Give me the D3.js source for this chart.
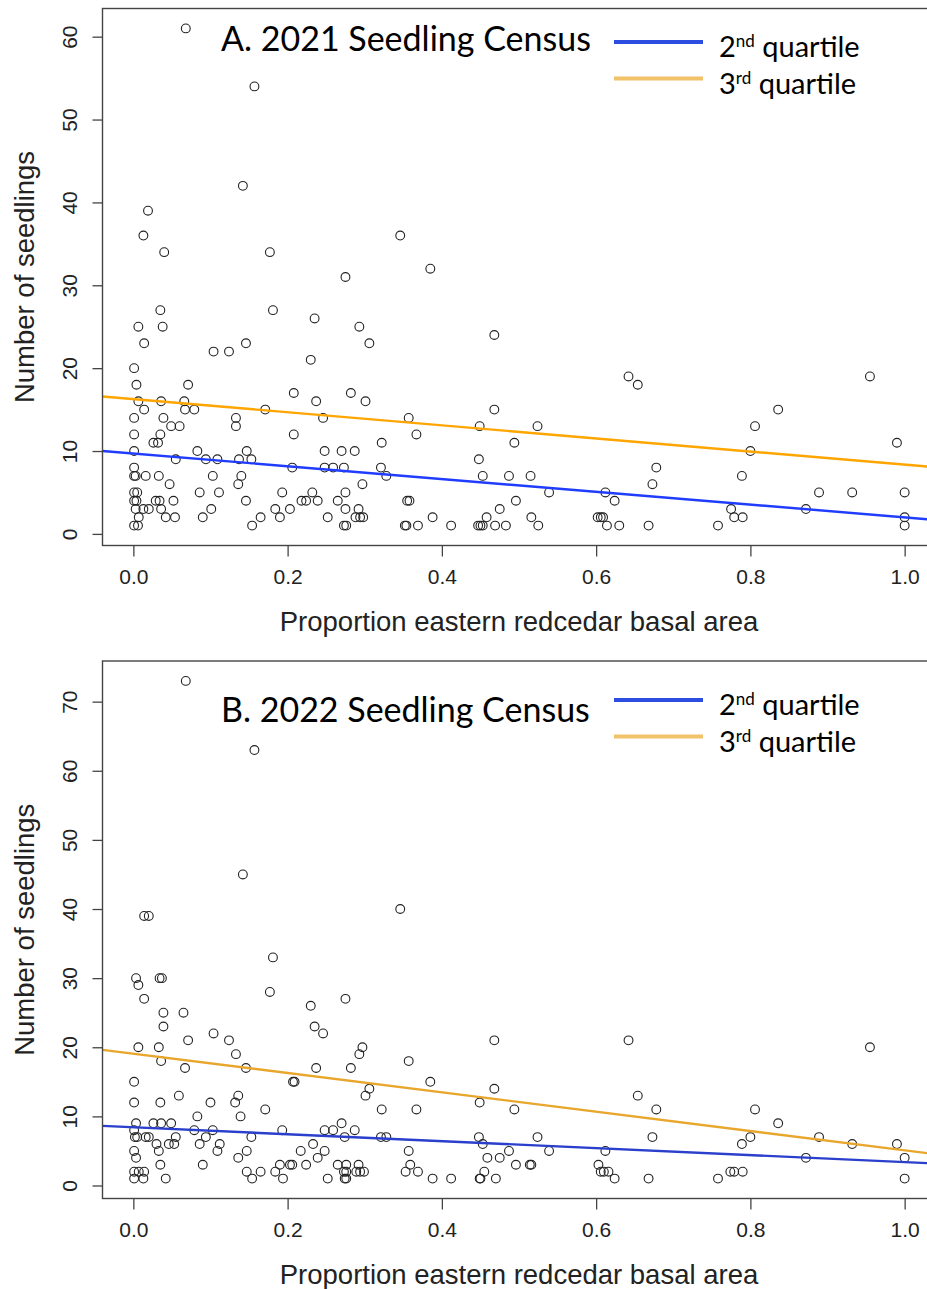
<!DOCTYPE html>
<html>
<head>
<meta charset="utf-8">
<script src="https://cdn.jsdelivr.net/npm/d3@7"></script>
<style>
  body { margin: 0; background: #fff; }
  svg { display: block; }
</style>
</head>
<body>
<svg id="chart"></svg>
<script>
// proportion of eastern redcedar basal area per plot, and seedling counts (2021 census)
const propA = [0.068,0.157,0.142,0.019,0.013,0.040,0.177,0.346,0.385,0.275,
  0.035,0.0065,0.038,0.014,0.104,0.124,0.146,0.181,0.235,0.230,0.001,0.004,0.071,0.208,0.0065,0.036,0.066,0.237,
  0.014,0.067,0.079,0.171,0.001,0.039,0.133,0.049,0.060,0.133,0.001,0.035,0.208,0.026,0.032,0.001,0.083,0.147,
  0.055,0.094,0.109,0.137,0.153,0.001,0.206,0.001,0.003,0.016,0.033,0.103,0.140,0.047,0.136,0.001,0.005,0.086,
  0.111,0.193,0.232,0.001,0.004,0.029,0.034,0.052,0.146,0.218,0.224,0.239,0.003,0.013,0.020,0.036,0.101,0.184,
  0.203,0.007,0.042,0.054,0.090,0.165,0.190,0.001,0.006,0.154,
  0.468,0.293,0.306,0.282,0.301,0.246,0.468,0.357,0.449,0.524,0.367,0.322,0.494,0.248,0.270,0.287,0.448,0.248,
  0.259,0.273,0.321,0.328,0.453,0.487,0.515,0.297,0.275,0.539,0.612,0.265,0.355,0.358,0.496,0.624,0.275,0.292,
  0.475,0.252,0.288,0.294,0.298,0.388,0.458,0.516,0.602,0.606,0.609,0.273,0.276,0.352,0.354,0.369,0.412,0.447,
  0.450,0.453,0.469,0.483,0.525,0.614,0.630,
  0.642,0.654,0.678,0.673,0.668,0.836,0.806,0.800,0.789,0.775,0.779,0.790,0.758,0.872,0.889,0.932,0.955,0.990,
  1.0,1.0,1.0];
const countA = [61,54,42,39,36,34,34,36,32,31,
  27,25,25,23,22,22,23,27,26,21,20,18,18,17,16,16,16,16,
  15,15,15,15,14,14,14,13,13,13,12,12,12,11,11,10,10,10,
  9,9,9,9,9,8,8,7,7,7,7,7,7,6,6,5,5,5,
  5,5,5,4,4,4,4,4,4,4,4,4,3,3,3,3,3,3,
  3,2,2,2,2,2,2,1,1,1,
  24,25,23,17,16,14,15,14,13,13,12,11,11,10,10,10,9,8,
  8,8,8,7,7,7,7,6,5,5,5,4,4,4,4,4,3,3,
  3,2,2,2,2,2,2,2,2,2,2,1,1,1,1,1,1,1,
  1,1,1,1,1,1,1,
  19,18,8,6,1,15,13,10,7,3,2,2,1,3,5,5,19,11,
  5,2,1];

// same plots, 2022 census
const propB = [0.068,0.157,0.142,0.014,0.020,0.346,
  0.0035,0.0065,0.034,0.037,0.014,0.181,0.177,0.039,0.065,0.039,0.104,0.071,0.124,0.230,0.235,0.0065,0.033,0.133,
  0.036,0.067,0.146,0.237,0.001,0.207,0.209,0.059,0.136,0.001,0.035,0.100,0.132,0.171,0.083,0.139,0.0035,0.026,
  0.036,0.049,0.001,0.079,0.103,0.193,0.002,0.005,0.016,0.020,0.055,0.094,0.153,0.030,0.046,0.053,0.086,0.112,
  0.233,0.001,0.033,0.109,0.147,0.217,0.0035,0.136,0.239,0.035,0.090,0.190,0.203,0.206,0.224,0.001,0.007,0.014,
  0.147,0.165,0.184,0.001,0.013,0.042,0.154,0.194,
  0.275,0.246,0.297,0.293,0.468,0.282,0.357,0.385,0.306,0.301,0.468,0.449,0.322,0.367,0.494,0.270,0.248,0.259,
  0.287,0.274,0.321,0.328,0.448,0.524,0.453,0.248,0.357,0.487,0.539,0.459,0.475,0.265,0.276,0.292,0.359,0.496,
  0.514,0.516,0.603,0.273,0.276,0.289,0.294,0.299,0.353,0.369,0.455,0.606,0.610,0.616,0.252,0.274,0.276,0.388,
  0.412,0.449,0.450,0.470,0.624,0.612,
  0.642,0.654,0.678,0.673,0.668,0.806,0.836,0.800,0.789,0.774,0.779,0.790,0.758,0.889,0.872,0.932,0.955,0.990,
  1.0,1.0];
const countB = [73,63,45,39,39,40,
  30,29,30,30,27,33,28,25,25,23,22,21,21,26,23,20,20,19,
  18,17,17,17,15,15,15,13,13,12,12,12,12,11,10,10,9,9,
  9,9,8,8,8,8,7,7,7,7,7,7,7,6,6,6,6,6,
  6,5,5,5,5,5,4,4,4,3,3,3,3,3,3,2,2,2,
  2,2,2,1,1,1,1,1,
  27,22,20,19,21,17,18,15,14,13,14,12,11,11,11,9,8,8,
  8,7,7,7,7,7,6,5,5,5,5,4,4,3,3,3,3,3,
  3,3,3,2,2,2,2,2,2,2,2,2,2,2,1,1,1,1,
  1,1,1,1,1,5,
  21,13,11,7,1,11,9,7,6,2,2,2,1,7,4,6,20,6,
  4,1];

// fitted quantile lines (2nd and 3rd quartile)
const quartileNum = ["2", "3"];
const quartileSuffix = ["nd", "rd"];
const interceptA = [9.7, 16.26];
const slopeA = [-7.7, -7.9];
const interceptB = [8.43, 19.07];
const slopeB = [-5.04, -13.98];

const xTicks = [0, 0.2, 0.4, 0.6, 0.8, 1.0];
const yTicksA = [0, 10, 20, 30, 40, 50, 60];
const yTicksB = [0, 10, 20, 30, 40, 50, 60, 70];
const titles = ["A. 2021 Seedling Census", "B. 2022 Seedling Census"];

const width = 927, height = 1289;
const plotLeft = 102.5, plotRight = 935.5;
const axisFont = '"Liberation Sans", Arial, sans-serif';
const textFont = 'Lato, "Open Sans", sans-serif';

const svg = d3.select('#chart').attr('width', width).attr('height', height);

const panels = [
  { id: 'a', title: titles[0], prop: propA, count: countA, intercept: interceptA, slope: slopeA, yTicks: yTicksA,
    top: 8.5, bottom: 545.5, titleY: 51, legendY: 42,
    lineColors: ['#1f3cff', '#ffa500'], legendColors: ['#2d4de2', '#f2c26a'] },
  { id: 'b', title: titles[1], prop: propB, count: countB, intercept: interceptB, slope: slopeB, yTicks: yTicksB,
    top: 661, bottom: 1198.5, titleY: 722, legendY: 700,
    lineColors: ['#2a3fcc', '#e8a72c'], legendColors: ['#2d4de2', '#f2c26a'] },
];

panels.forEach(drawPanel);

function drawPanel(p) {
  const g = svg.append('g');

  // R style 4% padding around the data range
  const [yMin, yMax] = d3.extent(p.count);
  const pad = (yMax - yMin) * 0.04;
  const x = d3.scaleLinear().domain([-0.04, 1.04]).range([plotLeft, plotRight]);
  const y = d3.scaleLinear().domain([yMin - pad, yMax + pad]).range([p.bottom, p.top]);

  g.append('clipPath').attr('id', 'clip-' + p.id)
    .append('rect')
    .attr('x', plotLeft).attr('y', p.top)
    .attr('width', plotRight - plotLeft).attr('height', p.bottom - p.top);

  // points
  g.append('g')
    .selectAll('circle')
    .data(d3.zip(p.prop, p.count))
    .join('circle')
    .attr('cx', d => x(d[0]))
    .attr('cy', d => y(d[1]))
    .attr('r', 4.4)
    .attr('fill', 'none')
    .attr('stroke', '#222')
    .attr('stroke-width', 1.1);

  // quantile regression lines
  const [x0, x1] = x.domain();
  g.append('g').attr('clip-path', `url(#clip-${p.id})`)
    .selectAll('line')
    .data(p.intercept.map((b, i) => ({ b, m: p.slope[i], color: p.lineColors[i] })))
    .join('line')
    .attr('x1', x(x0)).attr('x2', x(x1))
    .attr('y1', d => y(d.b + d.m * x0))
    .attr('y2', d => y(d.b + d.m * x1))
    .attr('stroke', d => d.color)
    .attr('stroke-width', 2.4);

  // box
  g.append('rect')
    .attr('x', plotLeft).attr('y', p.top)
    .attr('width', plotRight - plotLeft).attr('height', p.bottom - p.top)
    .attr('fill', 'none').attr('stroke', '#444').attr('stroke-width', 1.4);

  // axes
  const xAxis = g.append('g')
    .attr('transform', `translate(0,${p.bottom})`)
    .call(d3.axisBottom(x).tickValues(xTicks).tickFormat(d3.format('.1f')).tickSize(11));
  xAxis.select('.domain').remove();
  xAxis.selectAll('line').attr('stroke', '#444').attr('stroke-width', 1.3);
  xAxis.selectAll('text')
    .attr('y', 31).attr('dy', '0.35em')
    .attr('fill', '#222')
    .style('font-family', axisFont).style('font-size', '21px');

  const yAxis = g.append('g')
    .attr('transform', `translate(${plotLeft},0)`)
    .call(d3.axisLeft(y).tickValues(p.yTicks).tickSize(10));
  yAxis.select('.domain').remove();
  yAxis.selectAll('line').attr('stroke', '#444').attr('stroke-width', 1.3);
  yAxis.selectAll('text')
    .attr('x', null).attr('dy', '0.35em')
    .attr('text-anchor', 'middle')
    .attr('transform', 'translate(-33,0) rotate(-90)')
    .attr('fill', '#222')
    .style('font-family', axisFont).style('font-size', '21px');

  // axis titles
  g.append('text')
    .attr('x', (plotLeft + plotRight) / 2).attr('y', p.bottom + 76)
    .attr('dy', '0.35em').attr('text-anchor', 'middle')
    .attr('fill', '#222')
    .style('font-family', axisFont).style('font-size', '27.5px')
    .text('Proportion eastern redcedar basal area');

  g.append('text')
    .attr('transform', `translate(24,${(p.top + p.bottom) / 2}) rotate(-90)`)
    .attr('dy', '0.35em').attr('text-anchor', 'middle')
    .attr('fill', '#222')
    .style('font-family', axisFont).style('font-size', '27.5px')
    .text('Number of seedlings');

  // panel title
  g.append('text')
    .attr('x', 221).attr('y', p.titleY)
    .attr('fill', '#000')
    .style('font-family', textFont).style('font-size', '34px')
    .text(p.title);

  // legend
  const leg = g.append('g').attr('transform', `translate(614,${p.legendY})`);
  const rows = leg.selectAll('g')
    .data(quartileNum.map((n, i) => ({ n, s: quartileSuffix[i], color: p.legendColors[i] })))
    .join('g')
    .attr('transform', (d, i) => `translate(0,${i * 36.5})`);
  rows.append('line')
    .attr('x1', 0).attr('x2', 89)
    .attr('stroke', d => d.color).attr('stroke-width', 4);
  const t = rows.append('text')
    .attr('x', 105).attr('y', 15)
    .attr('fill', '#000')
    .style('font-family', textFont).style('font-size', '29px');
  t.append('tspan').text(d => d.n);
  t.append('tspan').attr('dy', -10).style('font-size', '17px').text(d => d.s);
  t.append('tspan').attr('dy', 10).text(' quartile');
}
</script>
</body>
</html>
